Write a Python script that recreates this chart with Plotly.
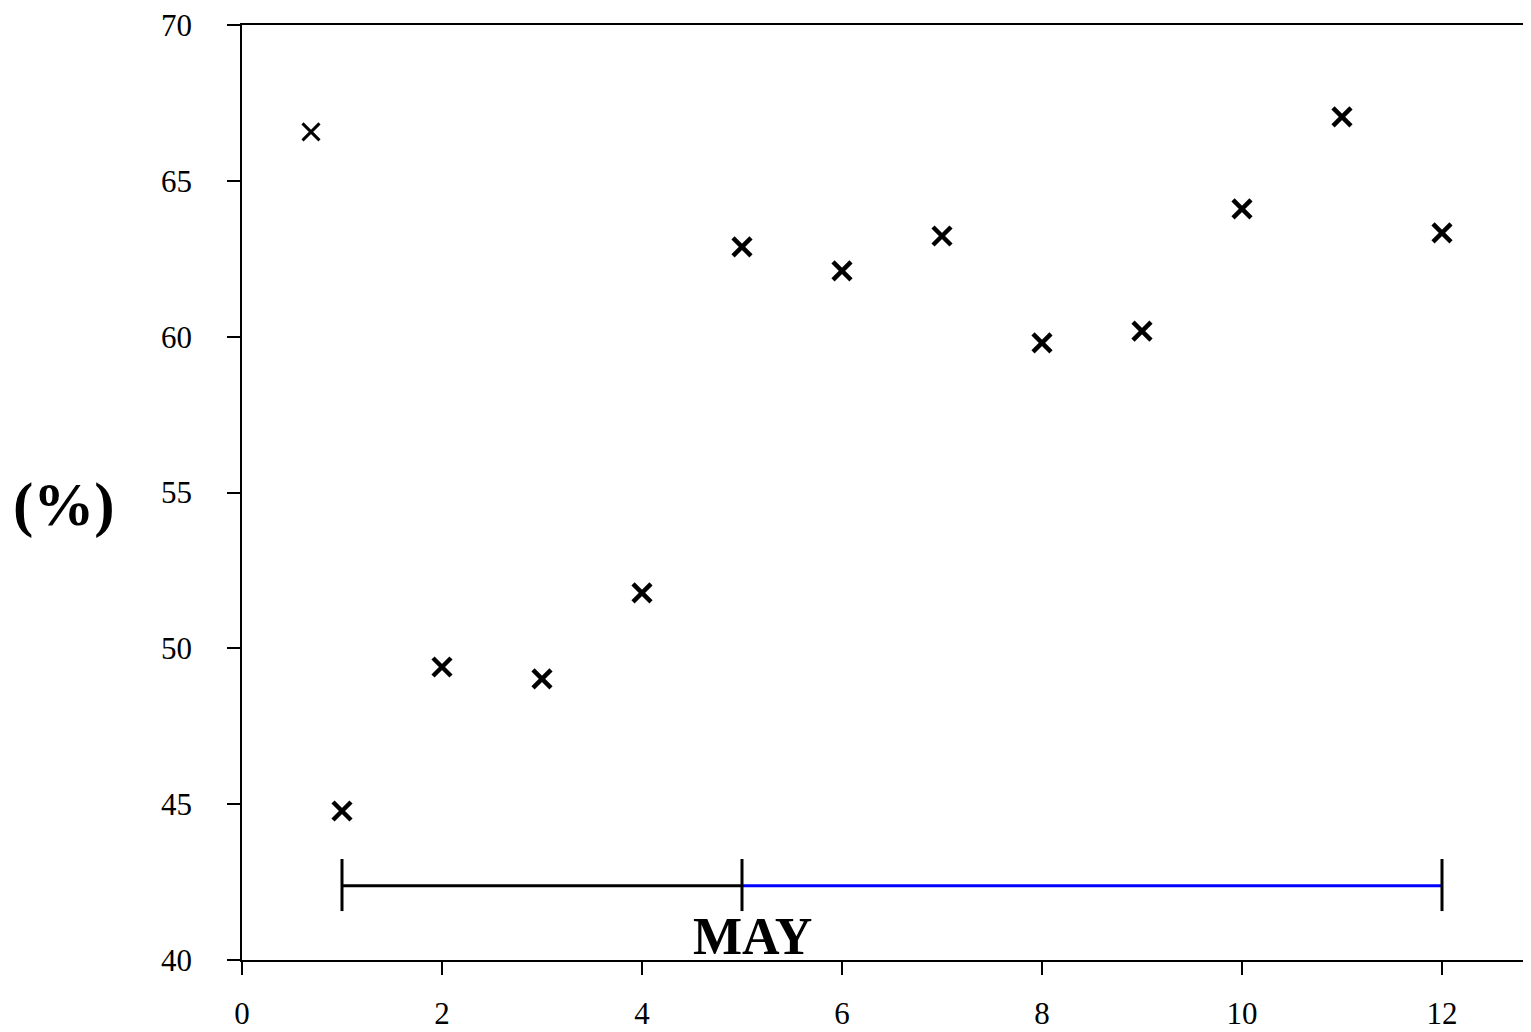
import plotly.graph_objects as go

# Data
first_x = [0.69]
first_y = [66.57]
months = [1, 2, 3, 4, 5, 6, 7, 8, 9, 10, 11, 12]
values = [44.78, 49.4, 49.02, 51.78, 62.88, 62.11, 63.23, 59.8, 60.18, 64.1, 67.05, 63.33]

bracket_y = 42.38
bracket_black_x = [1, 5]
bracket_blue_x = [5, 12]
bracket_tick_x = [1, 5, 12]
bracket_tick_lo = 41.57
bracket_tick_hi = 43.24

x_ticks = [0, 2, 4, 6, 8, 10, 12]
y_ticks = [40, 45, 50, 55, 60, 65, 70]

FONT = "Liberation Serif"

W, H = 1523, 1024
ML, MR, MT, MB = 234, 0, 17, 72

fig = go.Figure()

fig.add_trace(go.Scatter(
    x=bracket_black_x, y=[bracket_y] * len(bracket_black_x), mode="lines",
    line=dict(color="black", width=3), showlegend=False, hoverinfo="skip"))
fig.add_trace(go.Scatter(
    x=bracket_blue_x, y=[bracket_y] * len(bracket_blue_x), mode="lines",
    line=dict(color="#0000ff", width=3), showlegend=False, hoverinfo="skip"))
tx, ty = [], []
for v in bracket_tick_x:
    tx += [v, v, None]
    ty += [bracket_tick_lo, bracket_tick_hi, None]
fig.add_trace(go.Scatter(
    x=tx, y=ty, mode="lines",
    line=dict(color="black", width=3), showlegend=False, hoverinfo="skip"))

fig.add_trace(go.Scatter(
    x=first_x, y=first_y, mode="markers",
    marker=dict(symbol="x-thin", size=17, line=dict(color="black", width=3)),
    showlegend=False))
fig.add_trace(go.Scatter(
    x=months, y=values, mode="markers",
    marker=dict(symbol="x-thin", size=18, line=dict(color="black", width=4.5)),
    showlegend=False))

fig.add_annotation(x=5.1, y=40.74, xref="x", yref="y", text="<b>MAY</b>",
                   showarrow=False, font=dict(family=FONT, size=52, color="black"))
# (%) label centred at page pixel (64, 505) -> figure pixel (56, 497)
fig.add_annotation(
    x=(56 - ML) / (W - ML - MR), y=(H - MB - 497) / (H - MT - MB),
    xref="paper", yref="paper", text="<b>(%)</b>", showarrow=False,
    xanchor="center", yanchor="middle",
    font=dict(family=FONT, size=61, color="black"))

fig.update_layout(
    width=W, height=H,
    margin=dict(l=ML, r=MR, t=MT, b=MB, autoexpand=False),
    plot_bgcolor="white", paper_bgcolor="white",
    font=dict(family=FONT, size=31, color="black"),
)

fig.update_xaxes(
    range=[0, 12.89], tickvals=x_ticks, ticks="outside", ticklen=13, tickwidth=1.5,
    tickcolor="black", showline=True, linecolor="black", linewidth=1.5,
    mirror=True, showgrid=False, zeroline=False, ticklabelstandoff=12,
    ticklabeloverflow="allow",
    automargin=False, tickfont=dict(family=FONT, size=31))
fig.update_yaxes(
    range=[40, 70], tickvals=y_ticks, ticks="outside", ticklen=13, tickwidth=1.5,
    tickcolor="black", showline=True, linecolor="black", linewidth=1.5,
    showgrid=False, zeroline=False, ticklabelstandoff=29,
    ticklabeloverflow="allow",
    automargin=False, tickfont=dict(family=FONT, size=31))

fig.write_html("out.html")
